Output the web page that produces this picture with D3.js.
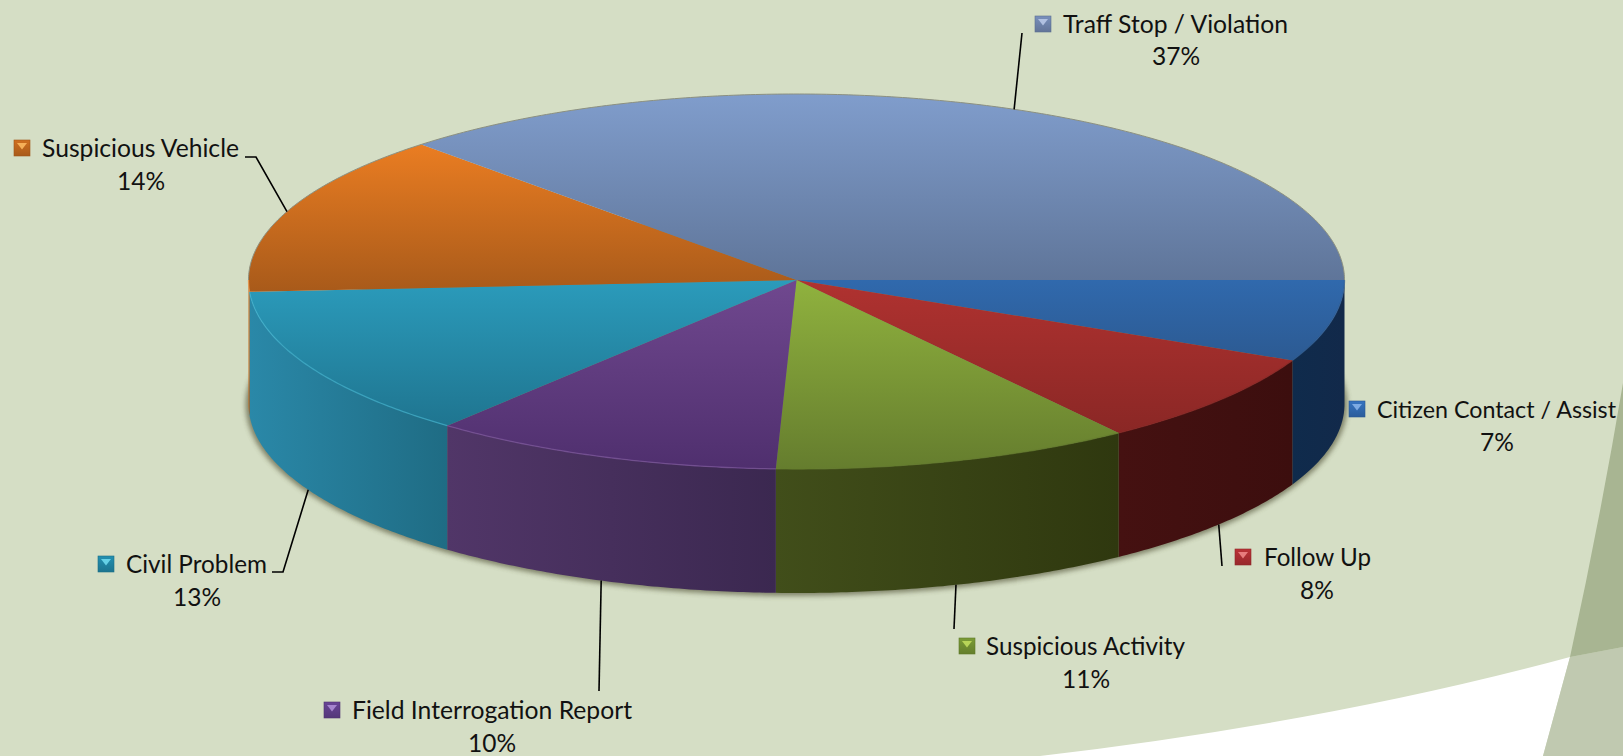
<!DOCTYPE html>
<html>
<head>
<meta charset="utf-8">
<script src="https://cdn.jsdelivr.net/npm/d3@7/dist/d3.min.js"></script>
<style>
html,body{margin:0;padding:0;background:#d5dec5;overflow:hidden}
text{font-family:Lato,"Open Sans",sans-serif;font-size:24.5px;fill:#111}
</style>
</head>
<body>
<svg id="chart" width="1623" height="756"></svg>
<script>
// ---- data ----
const categories = ["Citizen Contact / Assist","Follow Up","Suspicious Activity","Field Interrogation Report","Civil Problem","Suspicious Vehicle","Traff Stop / Violation"];
const values = [7, 8, 10.6, 10.4, 13, 14, 37];

// ---- styles (one per category) ----
const topLight  = ["#3069ad","#b03230","#90b23e","#70488f","#2b9bbb","#ea7d22","#809dcc"];
const topDark   = ["#2c5a92","#8a2725","#657d2e","#4f2f6e","#1f7590","#a85a1a","#5f7599"];
const sideLight = ["#0f2b4c","#451111","#414e1a","#513668","#2a88a8","#c06a20","#6a80a8"];
const sideDark  = ["#12294a","#3c0e0e","#2f380f","#3b2850","#1f6c84","#a05818","#5a6f90"];
const rimColor  = ["#2c5a92","#8a2725","#657d2e","#7d56a0","#3fb0cf","#f09040","#9ab4dc"];
const keyColor  = ["#2f66aa","#a52c30","#6d8a30","#5c3c84","#1f7f9c","#b8621c","#6b7fa6"];
const keyGlow   = ["#8ab6ec","#f28a8a","#c4e05e","#b292da","#72def2","#ffbc64","#bccbea"];

// ---- label layout: key x, text x, text width, font size, line 1 baseline, percent centre x, line 2 baseline, leader route ----
const labelLayout = [
  {kx:1349, tx:1377, tw:239, fs:22.8, y1:418, cx:1497, y2:451, route:null},
  {kx:1235, tx:1264, tw:107, fs:24.5, y1:566, cx:1317, y2:599, route:[[1222,566]]},
  {kx:959,  tx:986,  tw:199, fs:24.5, y1:655, cx:1086, y2:688, route:[[954,629]]},
  {kx:324,  tx:352,  tw:280, fs:24.5, y1:719, cx:492,  y2:752, route:[[599,691]]},
  {kx:98,   tx:126,  tw:141, fs:24.5, y1:573, cx:197,  y2:606, route:[[283,572],[272,572]]},
  {kx:14,   tx:42,   tw:197, fs:24.5, y1:157, cx:141,  y2:190, route:[[256,157],[245,157]]},
  {kx:1035, tx:1063, tw:225, fs:24.5, y1:33,  cx:1176, y2:65,  route:[[1022,33]]}
];

const W = 1623, H = 756;
const rx = 548, ryBack = 186, ryFront = 189, depth = 124, cx = 796.5, cy = 280;
const svg = d3.select("#chart");
const defs = svg.append("defs");

// ---- background shapes ----
const bg = svg.append("g");
bg.append("rect").attr("width", W).attr("height", H).attr("fill", "#d5dec5");
bg.append("path").attr("d", "M1040,756 Q1330,722 1570,657 L1543,756 Z").attr("fill", "#ffffff");
bg.append("path").attr("d", "M1570,657 L1623,647 L1623,756 L1543,756 Z").attr("fill", "#c0c9b0");
bg.append("path").attr("d", "M1623,383 Q1600,520 1570,657 L1623,647 Z").attr("fill", "#a8b592");

// ---- projection of the tilted disc: the near half is drawn slightly deeper than the far half ----
const projX = d3.scaleLinear().domain([-1, 1]).range([cx - rx, cx + rx]);
const projY = d3.scaleLinear().domain([-1, 0, 1]).range([cy - ryBack, cy, cy + ryFront]);
const ptTop = a => [projX(Math.cos(a)), projY(Math.sin(a))];
const ptBot = a => { const p = ptTop(a); return [p[0], p[1] + depth]; };

// Angles: 0 = 3 o'clock, growing clockwise on screen.
const pie = d3.pie().sort(null).value(d => d).startAngle(0).endAngle(2 * Math.PI);
const arcs = pie(values);

const line = d3.line();
const sweep = (a0, a1) => {
  const n = Math.max(2, Math.ceil((a1 - a0) / 0.01));
  return d3.range(n + 1).map(k => a0 + (a1 - a0) * k / n);
};
const topPath = d => line([[cx, cy], ...sweep(d.startAngle, d.endAngle).map(ptTop)]) + "Z";
const wallPath = d => {
  const as = sweep(d.startAngle, Math.min(d.endAngle, Math.PI));
  return line([...as.map(ptTop), ...as.slice().reverse().map(ptBot)]) + "Z";
};
const rimPath = (a0, a1) => line(sweep(a0, a1).map(ptTop));

// ---- gradients ----
categories.forEach((c, i) => {
  const t = defs.append("linearGradient").attr("id", "top" + i).attr("x1", 0).attr("y1", 0).attr("x2", 0).attr("y2", 1);
  t.append("stop").attr("offset", 0).attr("stop-color", topLight[i]);
  t.append("stop").attr("offset", 1).attr("stop-color", topDark[i]);
  const s = defs.append("linearGradient").attr("id", "side" + i).attr("x1", 0).attr("y1", 0).attr("x2", 1).attr("y2", 0);
  s.append("stop").attr("offset", 0).attr("stop-color", sideLight[i]);
  s.append("stop").attr("offset", 1).attr("stop-color", sideDark[i]);
  const k = defs.append("linearGradient").attr("id", "key" + i).attr("x1", 0).attr("y1", 0).attr("x2", 0).attr("y2", 1);
  k.append("stop").attr("offset", 0).attr("stop-color", d3.color(keyColor[i]).brighter(0.35));
  k.append("stop").attr("offset", 1).attr("stop-color", d3.color(keyColor[i]).darker(0.25));
});
const blur = defs.append("filter").attr("id", "soft").attr("x", "-5%").attr("y", "-5%").attr("width", "110%").attr("height", "110%");
blur.append("feGaussianBlur").attr("stdDeviation", 2.5);
const tiny = defs.append("filter").attr("id", "tiny").attr("x", "-20%").attr("y", "-20%").attr("width", "140%").attr("height", "140%");
tiny.append("feGaussianBlur").attr("stdDeviation", 0.7);

// ---- shadow under the disc ----
svg.append("ellipse")
  .attr("cx", cx).attr("cy", cy + depth + 1)
  .attr("rx", rx + 3).attr("ry", ryFront + 2)
  .attr("fill", "#4a4a2e").attr("opacity", 0.6).attr("filter", "url(#soft)");

// ---- side wall: only the part of each slice facing the viewer ----
const front = arcs.map((d, i) => ({d, i})).filter(o => o.d.startAngle < Math.PI);
svg.append("g").selectAll("path").data(front).join("path")
  .attr("d", o => wallPath(o.d))
  .attr("fill", o => `url(#side${o.i})`);

// ---- top face ----
svg.append("g").selectAll("path").data(arcs).join("path")
  .attr("d", topPath)
  .attr("fill", (d, i) => `url(#top${i})`);

// ---- rims: thin highlight along the front edge, grey line along the back ----
svg.append("g").selectAll("path").data(front).join("path")
  .attr("d", o => rimPath(o.d.startAngle, Math.min(o.d.endAngle, Math.PI)))
  .attr("fill", "none").attr("stroke", o => rimColor[o.i]).attr("stroke-width", 1.3)
  .attr("opacity", 0.7);
svg.append("path")
  .attr("d", rimPath(Math.PI, 2 * Math.PI))
  .attr("fill", "none").attr("stroke", "#8c9080").attr("stroke-width", 1);

// ---- leader lines: start on the outer edge at the slice's middle angle ----
arcs.forEach((d, i) => {
  const route = labelLayout[i].route;
  if (!route) return;
  const mid = (d.startAngle + d.endAngle) / 2;
  const start = mid < Math.PI ? ptBot(mid) : ptTop(mid);
  svg.append("path")
    .attr("d", line([start, ...route]))
    .attr("fill", "none").attr("stroke", "#000").attr("stroke-width", 1.6);
});

// ---- labels ----
const pct = d3.format(".0f");
const labels = svg.append("g");
categories.forEach((c, i) => {
  const L = labelLayout[i];
  const g = labels.append("g");
  const kTop = L.y1 - 17, kSize = 16;
  g.append("rect").attr("x", L.kx).attr("y", kTop).attr("width", kSize).attr("height", kSize)
    .attr("fill", `url(#key${i})`).attr("stroke", d3.color(keyColor[i]).darker(0.4)).attr("stroke-width", 0.6);
  g.append("path")
    .attr("d", `M${L.kx + 3},${kTop + 3}H${L.kx + kSize - 3}L${L.kx + kSize / 2},${kTop + kSize * 0.6}Z`)
    .attr("fill", keyGlow[i]).attr("opacity", 0.85).attr("filter", "url(#tiny)");
  g.append("text").attr("x", L.tx).attr("y", L.y1).style("font-size", L.fs + "px")
    .attr("textLength", L.tw).attr("lengthAdjust", "spacingAndGlyphs").text(c);
  g.append("text").attr("x", L.cx).attr("y", L.y2).attr("text-anchor", "middle")
    .text(pct(values[i]) + "%");
});
</script>
</body>
</html>
